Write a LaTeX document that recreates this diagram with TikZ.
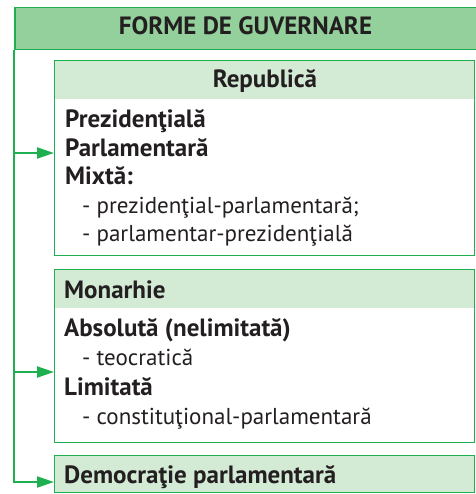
\documentclass[tikz,border=0pt]{standalone}
\usepackage{fontspec}
\setmainfont{PT Sans}
\usetikzlibrary{arrows.meta,positioning}
\definecolor{gline}{RGB}{30,175,80}
\definecolor{topfill}{RGB}{148,208,155}
\definecolor{bandfill}{RGB}{211,234,213}
\definecolor{ink}{RGB}{35,31,32}
\tikzset{
	topbar/.style={draw=gline,line width=1.5pt,fill=topfill,anchor=north west,minimum width=463,minimum height=42,inner sep=0},
	band/.style={fill=bandfill,anchor=north west,minimum width=420,minimum height=39,inner sep=0},
	panel/.style={draw=gline,line width=1.3pt,anchor=north west,minimum width=420,inner sep=0},
	txt/.style={anchor=base west,inner sep=0,text=ink,font=\fontsize{23}{27}\selectfont},
	btxt/.style={anchor=base west,inner sep=0,text=ink,font=\fontsize{25}{29}\selectfont\bfseries},
	head/.style={anchor=base,inner sep=0,text=ink,font=\fontsize{25}{29}\selectfont\bfseries},
	link/.style={draw=gline,line width=2pt,-{Triangle[length=17pt,width=11pt]}},
}
\begin{document}
\begin{tikzpicture}[x=1pt,y=-1pt]
	\useasboundingbox (0,0) rectangle (475,494);
	% main header
	\node[topbar] (top) at (14,7) {};
	\node[head] (toptxt) at (245.5,35) {FORME DE GUVERNARE};
	% republica
	\node[band] (repband) at (54,60) {};
	\node[panel,minimum height=195] (rep) at (54,60) {};
	\node[head] (rephd) at (265,88) {Republică};
	\node[btxt] (prez) at (65,128) {Prezidenţială};
	\node[btxt] (parl) at (65,157) {Parlamentară};
	\node[btxt] (mixt) at (65,185) {Mixtă:};
	\node[txt] (mixta) at (82,213) {- prezidenţial-parlamentară;};
	\node[txt] (mixtb) at (82,241) {- parlamentar-prezidenţială};
	% monarhie
	\node[band] (monband) at (54,269) {};
	\node[panel,minimum height=173] (mon) at (54,269) {};
	\node[btxt] (monhd) at (64,298) {Monarhie};
	\node[btxt] (abs) at (64,336) {Absolută (nelimitată)};
	\node[txt] (teo) at (82,365) {- teocratică};
	\node[btxt] (lim) at (64,395) {Limitată};
	\node[txt] (const) at (82,424) {- constituţional-parlamentară};
	% democratie
	\node[panel,fill=bandfill,minimum height=37] (dem) at (54,455) {};
	\node[btxt] (demtxt) at (64,483) {Democraţie parlamentară};
	% connectors
	\coordinate (jr) at (14,153);
	\coordinate (jm) at (14,372);
	\coordinate (jd) at (14,482);
	\draw[link] (top.south west) -- (jd) -- (dem.west |- jd);
	\draw[link] (jr) -- (rep.west |- jr);
	\draw[link] (jm) -- (mon.west |- jm);
\end{tikzpicture}
\end{document}
